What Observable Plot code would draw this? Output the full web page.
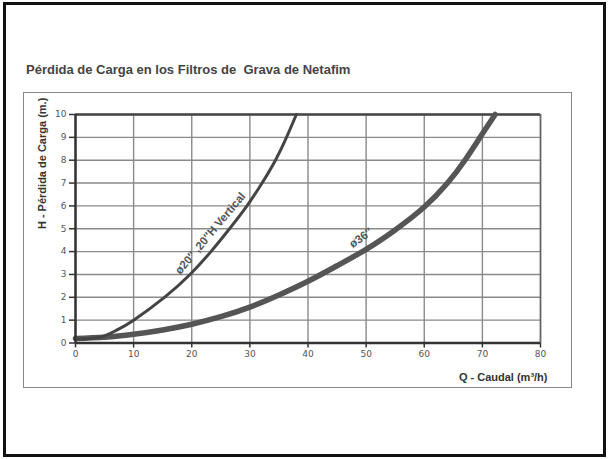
<!DOCTYPE html>
<html>
<head>
<meta charset="utf-8">
<script src="https://cdn.jsdelivr.net/npm/d3@7"></script>
<script src="https://cdn.jsdelivr.net/npm/@observablehq/plot@0.6"></script>
<style>
  html, body { margin: 0; padding: 0; background: #fff; }
  #page { position: relative; width: 609px; height: 459px; overflow: hidden; font-family: "Liberation Sans", Arial, sans-serif; }
  #border { position: absolute; left: 3px; top: 2px; width: 597px; height: 449px; border: 3px solid #111; }
  #frame { position: absolute; left: 23px; top: 92px; width: 547px; height: 294px; border: 1.5px solid #888; }
  #title { position: absolute; left: 26px; top: 62px; font-size: 13px; font-weight: bold; color: #444; white-space: pre; }
  #chart { position: absolute; left: 0; top: 0; }
</style>
</head>
<body>
<div id="page">
  <div id="border"></div>
  <div id="frame"></div>
  <div id="title">Pérdida de Carga en los Filtros de  Grava de Netafim</div>
  <div id="chart"></div>
</div>
<script>
// Curve ø20", 20"H Vertical  (Q m3/h, H m)
const q20 = [0, 4, 7, 10, 15.3, 19.7, 23.3, 26.5, 29.5, 32.1, 34.4, 36.3, 38.0];
const h20 = [0.18, 0.24, 0.55, 1.0, 2.0, 3.0, 4.0, 5.0, 6.0, 7.0, 8.0, 9.0, 10.0];
// Curve ø36"
const q36 = [0, 5, 10, 15, 20, 25, 30, 35, 40, 45, 50, 55, 60, 64, 67, 69.6, 72.2];
const h36 = [0.2, 0.25, 0.38, 0.57, 0.82, 1.15, 1.57, 2.1, 2.7, 3.38, 4.1, 4.95, 5.95, 7.0, 8.0, 9.0, 10.0];
const xTicks = [0, 10, 20, 30, 40, 50, 60, 70, 80];
const yTicks = [0, 1, 2, 3, 4, 5, 6, 7, 8, 9, 10];
const curveLabels = ["ø20″ ,20″H Vertical", "ø36″"];
const labelQ = [23.2, 49.1];
const labelH = [4.8, 4.6];
const labelAngle = [-50, -36];

const d20 = q20.map((q, i) => ({q, h: h20[i]}));
const d36 = q36.map((q, i) => ({q, h: h36[i]}));
const labs = curveLabels.map((t, i) => ({t, q: labelQ[i], h: labelH[i], a: labelAngle[i]}));

const chart = Plot.plot({
  width: 609,
  height: 459,
  marginLeft: 75,
  marginRight: 69,
  marginTop: 114,
  marginBottom: 116.5,
  style: {fontFamily: "'DejaVu Sans', sans-serif", fontSize: "9px", color: "#555", background: "transparent"},
  x: {domain: [0, 80], ticks: xTicks, label: null},
  y: {domain: [0, 10], ticks: yTicks, label: null},
  marks: [
    Plot.gridX(xTicks, {stroke: "#8a8a8a", strokeOpacity: 1, strokeWidth: 1.4}),
    Plot.gridY(yTicks, {stroke: "#8a8a8a", strokeOpacity: 1, strokeWidth: 1.4}),
    Plot.ruleX([80], {stroke: "#666", strokeWidth: 1.6}),
    Plot.ruleY([10], {stroke: "#444", strokeWidth: 2.5}),
    Plot.axisX({ticks: xTicks, tickSize: 5, tickPadding: 3, stroke: "#333", strokeWidth: 1.5, fill: "#555", label: null}),
    Plot.axisY({ticks: yTicks, tickSize: 6, tickPadding: 3, stroke: "#333", strokeWidth: 1.5, fill: "#555", label: null}),
    Plot.line(d36, {x: "q", y: "h", curve: "natural", stroke: "#555", strokeWidth: 5.5}),
    Plot.line(d20, {x: "q", y: "h", curve: "natural", stroke: "#444", strokeWidth: 3}),
    Plot.ruleX([0], {stroke: "#333", strokeWidth: 2.5}),
    Plot.ruleY([0], {stroke: "#333", strokeWidth: 2.5}),
    Plot.text(labs, {x: "q", y: "h", text: "t", rotate: "a", fontSize: 11.5, fontWeight: "bold", fill: "#555", fontFamily: "'Liberation Sans', sans-serif"}),
    Plot.text(["H - Pérdida de Carga (m.)"], {frameAnchor: "left", dx: -33, y: 7.86, rotate: -90, textAnchor: "middle", fontSize: 11, fontWeight: "bold", fill: "#333", fontFamily: "'Liberation Sans', sans-serif"}),
    Plot.text(["Q - Caudal (m³/h)"], {x: 80, frameAnchor: "bottom", dy: 38, dx: 7, textAnchor: "end", fontSize: 11, fontWeight: "bold", fill: "#333", fontFamily: "'Liberation Sans', sans-serif"})
  ]
});
document.getElementById("chart").appendChild(chart);
</script>
</body>
</html>
